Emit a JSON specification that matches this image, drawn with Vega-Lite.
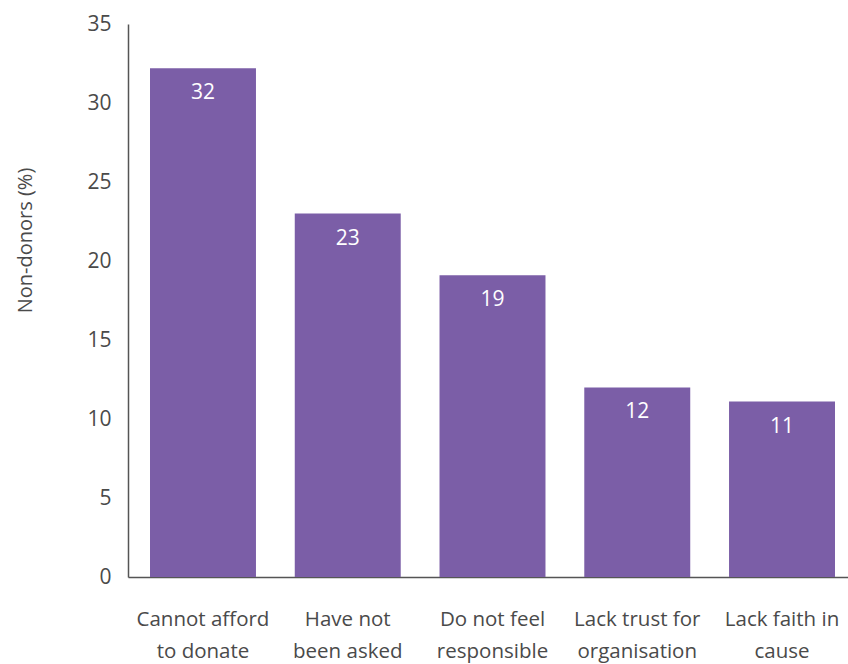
{
  "$schema": "https://vega.github.io/schema/vega-lite/v6.json",
  "autosize": {"type": "none"},
  "padding": {"left": 128, "top": 24, "right": 0, "bottom": 87},
  "width": 729,
  "height": 553,
  "background": "white",
  "data": {
    "values": [
      {"reason": "Cannot afford|to donate", "pct": 32.2, "label": "32"},
      {"reason": "Have not|been asked", "pct": 23.0, "label": "23"},
      {"reason": "Do not feel|responsible", "pct": 19.1, "label": "19"},
      {"reason": "Lack trust for|organisation", "pct": 12.0, "label": "12"},
      {"reason": "Lack faith in|cause", "pct": 11.1, "label": "11"}
    ]
  },
  "config": {
    "view": {"stroke": null},
    "font": "Open Sans"
  },
  "encoding": {
    "x": {
      "field": "reason",
      "type": "nominal",
      "sort": null,
      "scale": {"paddingInner": 0.268, "paddingOuter": 0.152},
      "axis": {
        "title": null,
        "labelAngle": 0,
        "labelExpr": "split(datum.label, '|')",
        "labelFont": "Open Sans",
        "labelFontSize": 20.5,
        "labelColor": "#4a4a4a",
        "labelLineHeight": 32,
        "labelPadding": 32,
        "labelBaseline": "top",
        "ticks": false,
        "domainColor": "#555555",
        "domainWidth": 1.5,
        "labelLimit": 0
      }
    },
    "y": {
      "field": "pct",
      "type": "quantitative",
      "scale": {"domain": [0, 35], "nice": false},
      "axis": {
        "title": "Non-donors (%)",
        "titleFont": "Open Sans",
        "titleFontSize": 20,
        "titleFontWeight": "normal",
        "titleColor": "#4a4a4a",
        "titleAnchor": "middle",
        "titleAngle": -90,
        "titleX": -103,
        "titleY": 216,
        "titleBaseline": "middle",
        "values": [0, 5, 10, 15, 20, 25, 30, 35],
        "grid": false,
        "ticks": false,
        "labelFont": "Open Sans",
        "labelFontSize": 21,
        "labelColor": "#4a4a4a",
        "labelPadding": 17,
        "domainColor": "#555555",
        "domainWidth": 1.5
      }
    }
  },
  "layer": [
    {
      "mark": {"type": "bar", "color": "#7B5EA7"}
    },
    {
      "mark": {"type": "text", "color": "white", "baseline": "top", "dy": 14, "font": "Open Sans", "fontSize": 21},
      "encoding": {"text": {"field": "label", "type": "nominal"}}
    }
  ]
}
